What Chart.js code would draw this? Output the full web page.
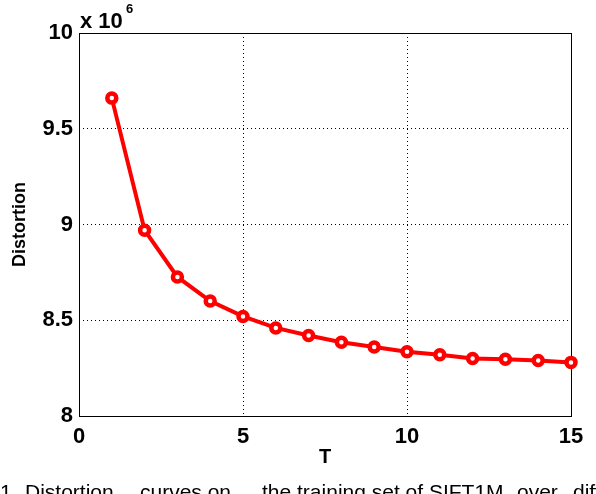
<!DOCTYPE html>
<html>
<head>
<meta charset="utf-8">
<script src="https://cdn.jsdelivr.net/npm/chart.js@4"></script>
<style>
    body { margin: 0; background: #fff; overflow: hidden; }
    #wrap { position: relative; width: 596px; height: 494px; overflow: hidden; }
    .cap { position: absolute; top: 482px; font: 21px 'Liberation Sans', Arial, sans-serif; line-height: 20px; white-space: pre; color: #000; }
</style>
</head>
<body>
<div id="wrap">
    <canvas id="chart" width="596" height="494"></canvas>
    <span class="cap" style="left:0px">1.</span>
    <span class="cap" style="left:25px">Distortion</span>
    <span class="cap" style="left:140px">curves on</span>
    <span class="cap" style="left:262px">the training set of SIFT1M</span>
    <span class="cap" style="left:517px">over</span>
    <span class="cap" style="left:573px">different</span>
</div>
<script>
// values, distortion in units of 10^6
const T = [1, 2, 3, 4, 5, 6, 7, 8, 9, 10, 11, 12, 13, 14, 15];
const distortion = [9.66, 8.97, 8.726, 8.6, 8.52, 8.46, 8.42, 8.385, 8.36, 8.335, 8.32, 8.3, 8.296, 8.29, 8.28];
const xTicks = [0, 5, 10, 15];
const yTicks = [8, 8.5, 9, 9.5, 10];

const fam = "'Liberation Sans', Arial, sans-serif";
const tickFont = { family: fam, size: 22, weight: 'bold' };

const points = T.map((t, i) => ({ x: t, y: distortion[i] }));

// grid lines only inside the box, edges drawn solid by the plugin
function innerGrid(ctx) {
    const s = ctx.scale;
    if (ctx.tick && (ctx.tick.value === s.min || ctx.tick.value === s.max)) return 'rgba(0,0,0,0)';
    return '#000';
}

const boxPlugin = {
    id: 'box',
    beforeDatasetsDraw(chart) {
        const { ctx, chartArea: a } = chart;
        ctx.save();
        ctx.strokeStyle = '#000';
        ctx.lineWidth = 1;
        ctx.strokeRect(a.left + 0.5, a.top + 0.5, a.right - a.left, a.bottom - a.top);
        ctx.restore();
    },
    afterDraw(chart) {
        const { ctx } = chart;
        ctx.save();
        ctx.fillStyle = '#000';
        ctx.textBaseline = 'alphabetic';
        ctx.textAlign = 'left';
        ctx.font = 'bold 22px ' + fam;
        ctx.fillText('x 10', 80, 28);
        ctx.font = 'bold 13px ' + fam;
        ctx.fillText('6', 126, 13);
        ctx.restore();
    }
};

new Chart(document.getElementById('chart'), {
    type: 'line',
    data: {
        datasets: [{
            data: points,
            borderColor: '#ff0000',
            borderWidth: 4,
            pointRadius: 4.5,
            pointBorderWidth: 4.5,
            pointBackgroundColor: '#fff',
            pointBorderColor: '#ff0000',
            tension: 0,
            clip: false
        }]
    },
    options: {
        responsive: false,
        animation: false,
        events: [],
        layout: { padding: { left: 0, top: 33, right: 25, bottom: 0 } },
        plugins: { legend: { display: false }, tooltip: { enabled: false } },
        scales: {
            x: {
                type: 'linear',
                min: 0,
                max: 15,
                afterBuildTicks: (axis) => { axis.ticks = xTicks.map(v => ({ value: v })); },
                afterFit: (axis) => { axis.height = 78; },
                grid: { color: innerGrid, lineWidth: 1, drawTicks: false },
                border: { display: false, dash: [1, 3] },
                ticks: { color: '#000', font: tickFont, padding: 8, maxRotation: 0, callback: v => String(v) },
                title: { display: true, text: 'T', color: '#000', font: { family: fam, size: 20, weight: 'bold' }, padding: { top: 0, bottom: 25 } }
            },
            y: {
                type: 'linear',
                min: 8,
                max: 10,
                afterBuildTicks: (axis) => { axis.ticks = yTicks.map(v => ({ value: v })); },
                afterFit: (axis) => { axis.width = 79; },
                grid: { color: innerGrid, lineWidth: 1, drawTicks: false },
                border: { display: false, dash: [1, 3] },
                ticks: { color: '#000', font: tickFont, padding: 6, callback: v => String(v) },
                title: { display: true, text: 'Distortion', color: '#000', font: { family: fam, size: 18, weight: 'bold' }, padding: { top: 9, bottom: 0 } }
            }
        }
    },
    plugins: [boxPlugin]
});
</script>
</body>
</html>
